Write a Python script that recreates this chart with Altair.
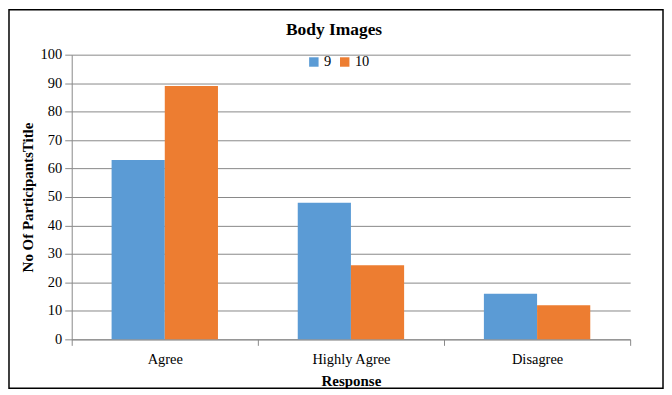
import altair as alt
import pandas as pd

categories = ["Agree", "Highly Agree", "Disagree"]
series = ["9", "10"]
values_9 = [63, 48, 16]
values_10 = [89, 26, 12]
colors = ["#5B9BD5", "#ED7D31"]

rows = []
for c, a, b in zip(categories, values_9, values_10):
    rows.append({"Response": c, "Series": "9", "Value": a})
    rows.append({"Response": c, "Series": "10", "Value": b})
df = pd.DataFrame(rows)

W, H = 561, 286
FONT = "Liberation Serif"

bars = alt.Chart(df).mark_bar().encode(
    x=alt.X("Response:N", sort=categories, title="Response",
            scale=alt.Scale(paddingInner=0, paddingOuter=0),
            axis=alt.Axis(labelAngle=0, tickBand="extent", domainColor="#888888",
                          tickColor="#888888", tickSize=6, labelFont=FONT,
                          labelFontSize=14.5, labelColor="#000000", labelPadding=7,
                          titleFont=FONT, titleFontSize=15, titleFontWeight="bold",
                          titleColor="#000000", titlePadding=8)),
    xOffset=alt.XOffset("Series:N", sort=series,
                        scale=alt.Scale(paddingOuter=0.75, paddingInner=0)),
    y=alt.Y("Value:Q", title="No Of ParticipantsTitle",
            scale=alt.Scale(domain=[0, 100]),
            axis=alt.Axis(values=list(range(0, 101, 10)), domainColor="#888888",
                          tickColor="#888888", tickSize=7, gridColor="#888888",
                          labelFont=FONT, labelFontSize=14.5, labelColor="#000000",
                          labelPadding=3,
                          titleFont=FONT, titleFontSize=15, titleFontWeight="bold",
                          titleColor="#000000", titlePadding=5)),
    color=alt.Color("Series:N", sort=series,
                    scale=alt.Scale(domain=series, range=colors),
                    legend=alt.Legend(title=None, orient="none", direction="horizontal",
                                      legendX=236, legendY=0, symbolType="square",
                                      symbolSize=90, symbolStrokeWidth=0,
                                      labelFont=FONT, labelFontSize=14.5,
                                      labelColor="#000000", columnPadding=6,
                                      labelOffset=3)),
)

border = alt.Chart(pd.DataFrame({"a": [0]})).mark_rect(
    fill=None, stroke="#000000", strokeWidth=1.5, clip=False
).encode(
    x=alt.value(-63), x2=alt.value(W + 33),
    y=alt.value(-45), y2=alt.value(H + 49),
)

chart = alt.layer(bars, border).properties(
    width=W, height=H,
    title=alt.TitleParams("Body Images", font=FONT, fontSize=17.5, fontWeight="bold",
                          color="#000000", anchor="middle", dx=-17, offset=-29),
    padding={"left": 64, "top": 46, "right": 34, "bottom": 50},
    autosize=alt.AutoSizeParams(type="none"),
).configure_view(stroke=None)

chart.save("out.html", embed_options={"renderer": "svg", "actions": False})
